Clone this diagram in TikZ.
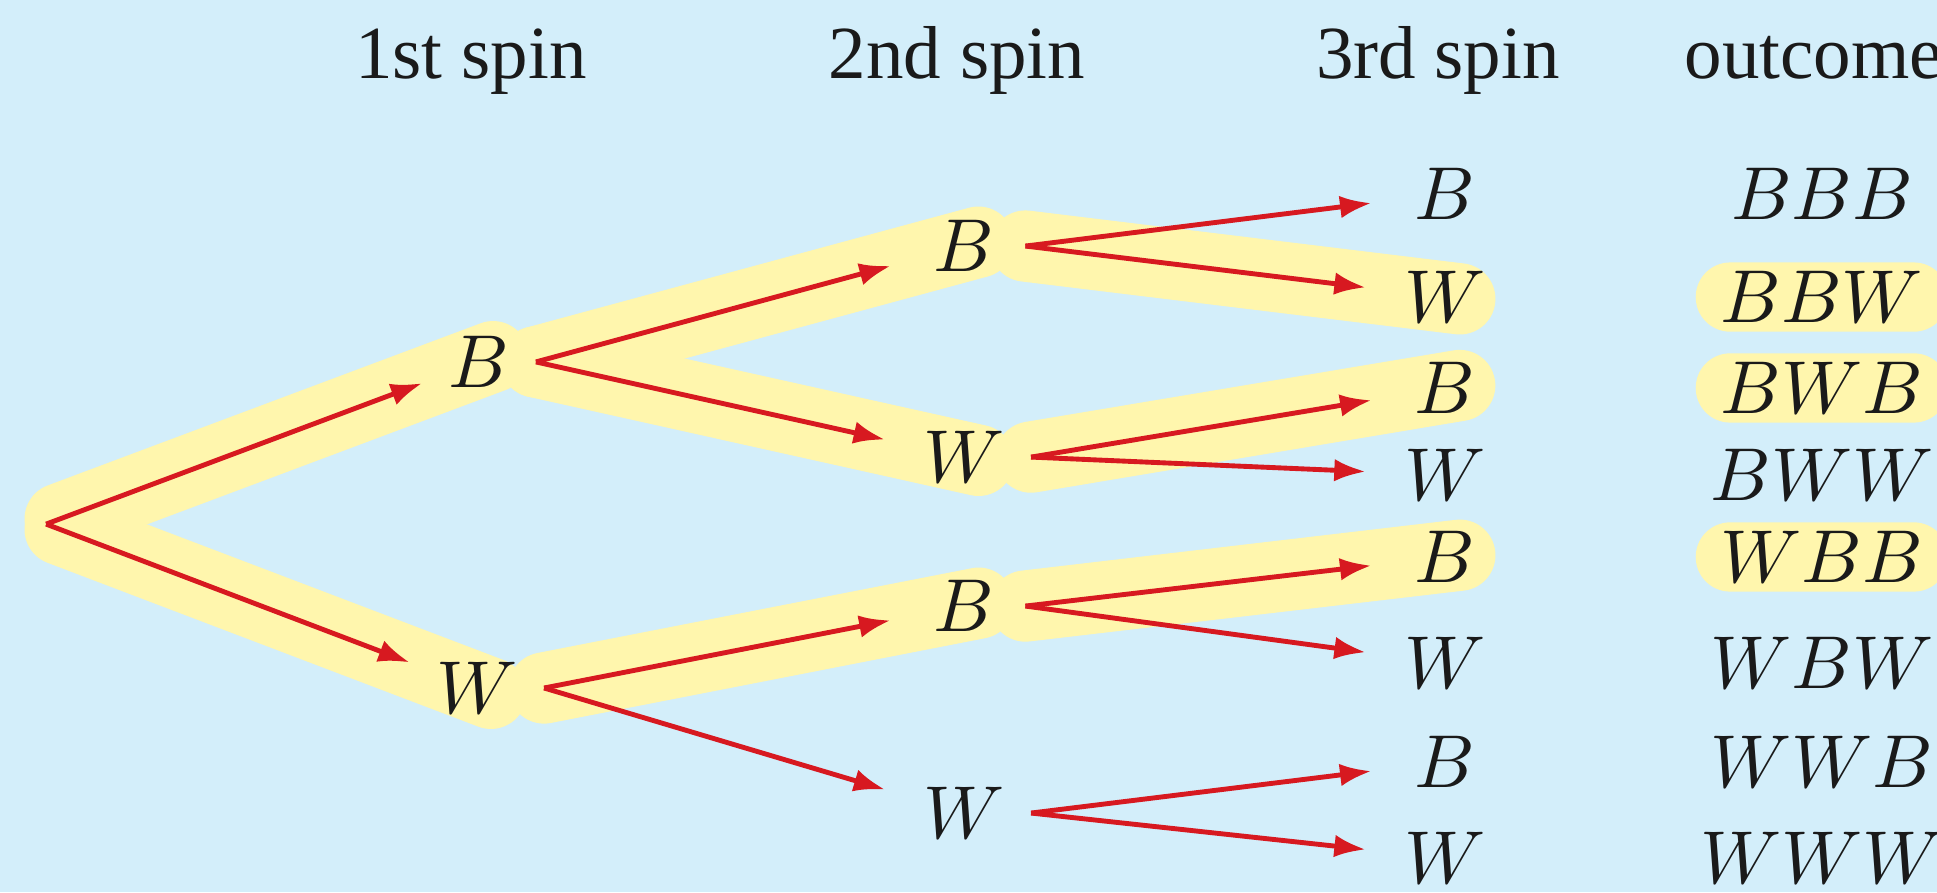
\documentclass[tikz,border=0pt]{standalone}
\usepackage{fontspec}
\setmainfont{Liberation Serif}
\usetikzlibrary{arrows.meta, backgrounds}
\definecolor{skybg}{HTML}{D3EEFA}
\definecolor{hilite}{HTML}{FFF6AD}
\definecolor{branchred}{HTML}{D71920}
\definecolor{inkdark}{HTML}{1A1A1A}

\begin{document}
\begin{tikzpicture}[
  spin/.style={text=inkdark, minimum width=16pt},
  res/.style={text=inkdark, inner ysep=1.2pt, rounded corners=4.6pt},
  pick/.style={fill=hilite},
  plain/.style={},
  head/.style={anchor=base, text=inkdark},
  br/.style={-{Latex[length=4.2pt,width=3pt]}, line width=0.65pt, branchred, shorten >=1.6pt},
  hl/.style={line width=9.5pt, hilite, line cap=round, shorten >=-2pt}
]
\useasboundingbox (0,0) rectangle (9.077,4.180);

% column heads
\node[head] (h1) at (2.207,3.814) {1st spin};
\node[head] (h2) at (4.485,3.814) {2nd spin};
\node[head] (h3) at (6.738,3.814) {3rd spin};
\node[head, anchor=base west] (h4) at (7.77,3.814) {outcome};

% tree
\coordinate (root) at (0.216,1.724);
\node[spin, minimum width=0pt] (b) at (2.245,2.484) {$B$};
\node[spin, minimum width=0pt] (w) at (2.235,0.956) {$W$};
\node[spin] (bb) at (4.517,3.027) {$B$};
\node[spin] (bw) at (4.517,2.038) {$W$};
\node[spin] (wb) at (4.517,1.340) {$B$};
\node[spin] (ww) at (4.517,0.370) {$W$};

\foreach \n/\t/\o/\s/\y in {bbb/B/BBB/plain/3.271, bbw/W/BBW/pick/2.788,
    bwb/B/BWB/pick/2.362, bww/W/BWW/plain/1.954, wbb/B/WBB/pick/1.570,
    wbw/W/WBW/plain/1.073, wwb/B/WWB/plain/0.609, www/W/WWW/plain/0.159} {
  \node[spin] (\n) at (6.771,\y) {$\t$};
  \node[res, \s] (o\n) at (8.538,\y) {$\o$};
}

% branches
\draw[br, shorten >=0pt] (root) -- (b);
\draw[br, shorten >=0pt] (root) -- (w);
\foreach \p/\c in {b/bb, b/bw, w/wb, w/ww, bb/bbb, bb/bbw, bw/bwb, bw/bww,
    wb/wbb, wb/wbw, ww/wwb, ww/www}
  \draw[br] (\p.east) -- (\c);

\begin{scope}[on background layer]
  \fill[skybg] (0,0) rectangle (9.077,4.180);
  \draw[hl, shorten <=2pt] (root) -- (b.center);
  \draw[hl] (b.east) -- (bb.center);
  \draw[hl] (bb.east) -- (bbw.center);
  \draw[hl] (b.east) -- (bw.center);
  \draw[hl] (bw.east) -- (bwb.center);
  \draw[hl, shorten <=2pt] (root) -- (w.center);
  \draw[hl] (w.east) -- (wb.center);
  \draw[hl] (wb.east) -- (wbb.center);
\end{scope}
\end{tikzpicture}
\end{document}
